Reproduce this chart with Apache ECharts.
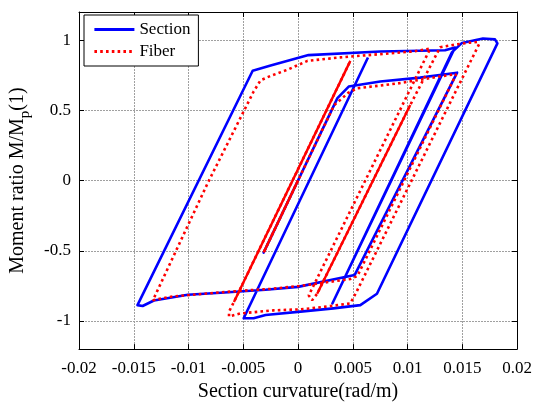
<!DOCTYPE html>
<html>
<head>
<meta charset="utf-8">
<script src="https://cdn.jsdelivr.net/npm/echarts@6/dist/echarts.min.js"></script>
<style>
html, body { margin: 0; padding: 0; background: #fff; }
#chart { width: 535px; height: 407px; }
</style>
</head>
<body>
<div id="chart"></div>
<script>
// x ticks of the curvature axis
var xTicks = [-0.02, -0.015, -0.01, -0.005, 0, 0.005, 0.01, 0.015, 0.02];
var yRange = [-1.2, 1.2];

// Section response (curvature, moment ratio)
var sectionX = [0, -0.00314, 0, 0.0036, 0.00463, 0.00751, 0.01116, 0.01453,
    0.00517, 0, -0.00296, -0.00706, -0.01006, -0.01316, -0.01419, -0.01466,
    -0.00414, -0.0025, 0.00096, 0.00751, 0.01343, 0.01434,
    0.00314, 0.01407, 0.01498, 0.01689, 0.01799, 0.01821,
    0.00721, 0.00569, 0.00323, 0.00023, -0.00296, -0.00405, -0.00496,
    0.00639];
var sectionY = [0, -0.513, 0, 0.587, 0.669, 0.705, 0.733, 0.768,
    -0.673, -0.757, -0.778, -0.799, -0.813, -0.854, -0.893, -0.887,
    0.782, 0.819, 0.893, 0.919, 0.928, 0.947,
    -0.875, 0.914, 0.98, 1.011, 1.005, 0.977,
    -0.806, -0.887, -0.91, -0.933, -0.957, -0.98, -0.98,
    0.876];

// Fiber response
var fiberX = [0, -0.00314, 0, 0.00331, 0.00387, 0.0046, 0.00542, 0.00906, 0.01362, 0.01444,
    0.00542, 0.00478, 0.00023, -0.0025, -0.00524, -0.0086, -0.01161, -0.01325,
    -0.00824, -0.00405, -0.00342, -0.0025, -0.00096, 0.00087, 0.00387, 0.00751, 0.01052, 0.01207,
    0.00098, 0.00129, 0.00175, 0.01025, 0.01298, 0.01453, 0.01571, 0.01635, 0.01653,
    0.00539, 0.00478, 0.00232, 0.00023, -0.00223, -0.00524, -0.0063, -0.0063, -0.00585,
    0.00478];
var fiberY = [0, -0.513, 0, 0.538, 0.575, 0.625, 0.657, 0.691, 0.749, 0.756,
    -0.68, -0.701, -0.75, -0.771, -0.785, -0.806, -0.827, -0.852,
    -0.017, 0.634, 0.714, 0.745, 0.789, 0.852, 0.877, 0.9, 0.919, 0.939,
    -0.818, -0.852, -0.806, 0.538, 0.949, 0.97, 0.982, 0.987, 0.97,
    -0.785, -0.875, -0.9, -0.917, -0.924, -0.946, -0.968, -0.933, -0.864,
    0.852];
// stretches of the fiber path that print as a solid red stroke (start, end index)
var fiberSolidRuns = [[0, 2], [30, 31], [45, 46]];

function pairs(xs, ys) {
    return xs.map(function (x, i) { return [x, ys[i]]; });
}

function runs(xs, ys, list) {
    var out = [];
    list.forEach(function (r, k) {
        if (k > 0) out.push(['-', '-']);
        for (var i = r[0]; i <= r[1]; i++) out.push([xs[i], ys[i]]);
    });
    return out;
}

var font = 'Liberation Serif';
var chart = echarts.init(document.getElementById('chart'));

var gridLine = { show: true, lineStyle: { color: '#a0a0a0', width: 1, type: [2, 1] } };
var tickIn = { show: true, inside: true, length: 5, lineStyle: { color: '#000' } };
var blackLine = { show: true, onZero: false, lineStyle: { color: '#000', width: 1 } };

var option = {
    backgroundColor: '#fff',
    animation: false,
    grid: { left: 78, right: 18, top: 12, bottom: 50 },
    legend: {
        left: 84, top: 15, orient: 'vertical',
        backgroundColor: '#fff', borderColor: '#000', borderWidth: 1,
        padding: [6, 8, 6, 9], itemGap: 5, itemWidth: 40, itemHeight: 14,
        itemStyle: { opacity: 0 },
        lineStyle: { width: 2.8 },
        textStyle: { fontFamily: font, fontSize: 17, color: '#000' },
        data: ['Section', 'Fiber']
    },
    xAxis: [{
        type: 'value', min: xTicks[0], max: xTicks[xTicks.length - 1], interval: 0.005,
        name: 'Section curvature(rad/m)', nameLocation: 'middle', nameGap: 29,
        nameTextStyle: { fontFamily: font, fontSize: 20, color: '#000' },
        axisLine: blackLine, axisTick: tickIn, splitLine: gridLine,
        axisLabel: {
            fontFamily: font, fontSize: 17, color: '#000', margin: 11,
            formatter: function (v) { return String(+v.toFixed(3)); }
        }
    }, {
        type: 'value', position: 'top', min: xTicks[0], max: xTicks[xTicks.length - 1], interval: 0.005,
        axisLine: blackLine, axisTick: tickIn, splitLine: { show: false },
        axisLabel: { show: false }
    }],
    yAxis: [{
        type: 'value', min: yRange[0], max: yRange[1], splitNumber: 5,
        name: 'Moment ratio M/M{sub|p}(1)', nameLocation: 'middle', nameGap: 46,
        nameTextStyle: {
            fontFamily: font, fontSize: 20, color: '#000',
            rich: { sub: { fontFamily: font, fontSize: 15, verticalAlign: 'bottom', lineHeight: 30 } }
        },
        axisLine: blackLine, axisTick: tickIn, splitLine: gridLine,
        axisLabel: { fontFamily: font, fontSize: 17, color: '#000', margin: 8, showMinLabel: false, showMaxLabel: false }
    }, {
        type: 'value', position: 'right', min: yRange[0], max: yRange[1], splitNumber: 5,
        axisLine: blackLine, axisTick: tickIn, splitLine: { show: false },
        axisLabel: { show: false }
    }],
    series: [{
        name: 'Section', type: 'line', symbol: 'none',
        data: pairs(sectionX, sectionY),
        lineStyle: { color: '#0000ff', width: 2.6, join: 'round' },
        itemStyle: { color: '#0000ff' }
    }, {
        name: 'Fiber', type: 'line', symbol: 'none',
        data: pairs(fiberX, fiberY),
        lineStyle: { color: '#ff0000', width: 2.6, type: [2.6, 3.2] },
        itemStyle: { color: '#ff0000' }
    }, {
        name: 'Fiber dense', type: 'line', symbol: 'none', connectNulls: false,
        data: runs(fiberX, fiberY, fiberSolidRuns),
        lineStyle: { color: '#ff0000', width: 2.4 },
        itemStyle: { color: '#ff0000' }
    }]
};
chart.setOption(option);
</script>
</body>
</html>
